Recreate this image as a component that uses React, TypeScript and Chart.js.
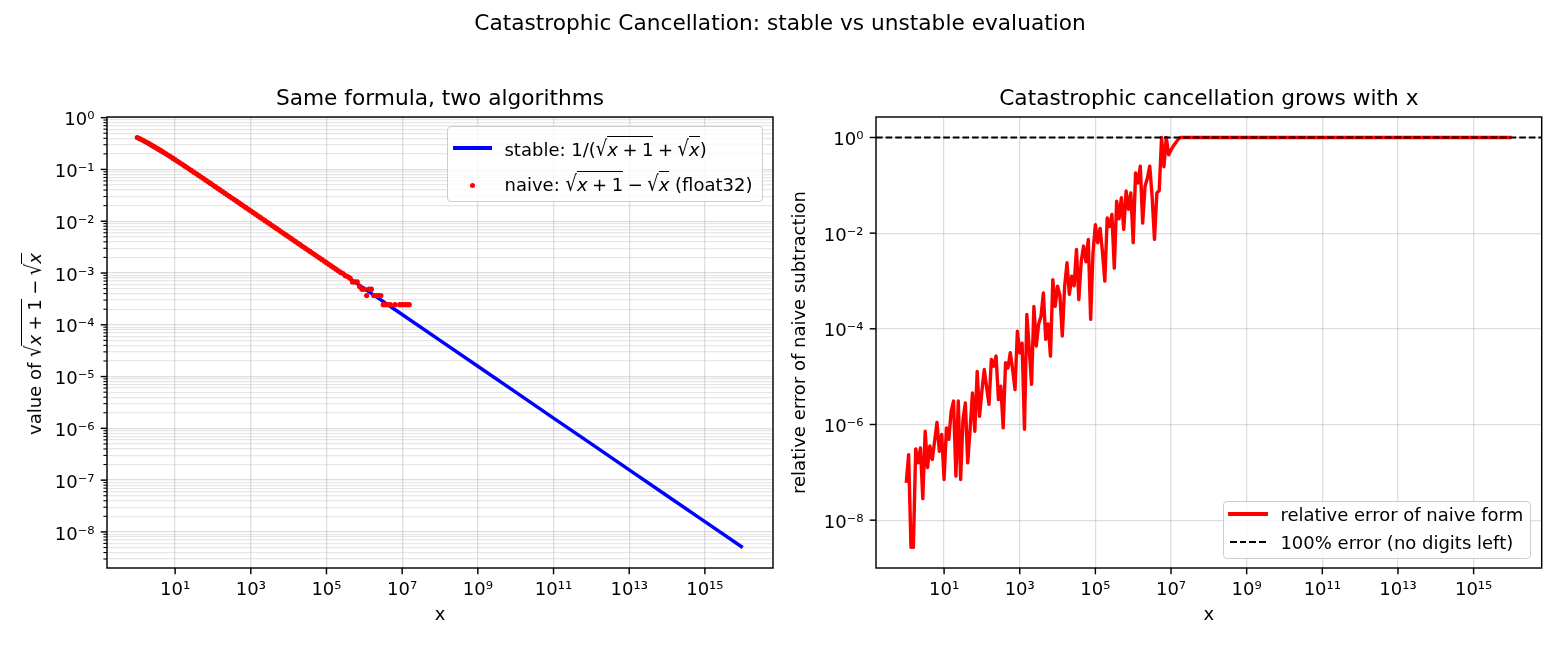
import React, { useEffect, useRef } from "react";
import { Chart, registerables } from "chart.js";

Chart.register(...registerables);

const FONT = '"DejaVu Sans", sans-serif';

// ---------------- data ----------------
// sample points x (shared by the naive scatter and the relative-error line)
const sampleX = [
  1, 1.155, 1.334, 1.54, 1.778, 2.054, 2.371, 2.738, 3.162, 3.652, 4.217, 4.87, 5.623, 6.494, 7.499, 8.66,
  10, 11.55, 13.34, 15.4, 17.78, 20.54, 23.71, 27.38, 31.62, 36.52, 42.17, 48.7, 56.23, 64.94, 74.99, 86.6,
  100, 115.5, 133.4, 154, 177.8, 205.4, 237.1, 273.8, 316.2, 365.2, 421.7, 487, 562.3, 649.4, 749.9, 866,
  1e3, 1155, 1334, 1540, 1778, 2054, 2371, 2738, 3162, 3652, 4217, 4870, 5623, 6494, 7499, 8660,
  1e4, 1.155e4, 1.334e4, 1.54e4, 1.778e4, 2.054e4, 2.371e4, 2.738e4, 3.162e4, 3.652e4, 4.217e4, 4.87e4, 5.623e4, 6.494e4, 7.499e4, 8.66e4,
  1e5, 1.155e5, 1.334e5, 1.54e5, 1.778e5, 2.054e5, 2.371e5, 2.738e5, 3.162e5, 3.652e5, 4.217e5, 4.87e5, 5.623e5, 6.494e5, 7.499e5, 8.66e5,
  1e6, 1.155e6, 1.334e6, 1.54e6, 1.778e6, 2.054e6, 2.371e6, 2.738e6, 3.162e6, 3.652e6, 4.217e6, 4.87e6, 5.623e6, 6.494e6, 7.499e6, 8.66e6,
  1e7, 1.155e7, 1.334e7, 1.54e7, 1.778e7,
];

// naive float32 value sqrt(x+1) - sqrt(x) (null = evaluated to 0, not drawn on log axis)
const naiveY = [
  0.4142, 0.3933, 0.3728, 0.3528, 0.3333, 0.3144, 0.2962, 0.2787, 0.2619, 0.2458, 0.2305, 0.216, 0.2022, 0.1892, 0.1769, 0.1653,
  0.1543, 0.1441, 0.1344, 0.1254, 0.117, 0.109, 0.1016, 0.0947, 0.0882, 0.0824, 0.0767, 0.0714, 0.0665, 0.0619, 0.0577, 0.0537,
  0.0499, 0.04653, 0.0433, 0.04029, 0.03749, 0.03489, 0.03247, 0.03022, 0.02812, 0.02617, 0.02435, 0.02266, 0.02109, 0.01962, 0.01826, 0.01699,
  0.01581, 0.01471, 0.01369, 0.01274, 0.01186, 0.01103, 0.01027, 0.00956, 0.00889, 0.00827, 0.0077, 0.00717, 0.00667, 0.0062, 0.00577, 0.00537,
  0.005, 0.004653, 0.00433, 0.004029, 0.003749, 0.003489, 0.003247, 0.003022, 0.002812, 0.002617, 0.002435, 0.002266, 0.002109, 0.001962, 0.001826, 0.001699,
  0.001581, 0.001471, 0.001369, 0.001274, 0.001186, 0.001103, 0.001027, 9.766e-4, 8.87e-4, 8.545e-4, 7.935e-4, 6.714e-4, 6.714e-4, 6.714e-4, 5.493e-4, 4.883e-4,
  4.883e-4, 3.662e-4, 4.883e-4, 4.883e-4, 3.662e-4, 3.662e-4, 3.662e-4, 3.662e-4, 2.441e-4, 2.441e-4, 2.441e-4, 2.441e-4, null, 2.441e-4, null, 2.441e-4,
  2.441e-4, 2.441e-4, 2.441e-4, 2.441e-4, null,
];

// relative error of the naive form at the same samples
const relErr = [
  6.03e-8, 2.34e-7, 2.7e-9, 2.7e-9, 3.09e-7, 1.58e-7, 3.24e-7, 2.82e-8, 7.24e-7, 1.26e-7, 3.55e-7, 1.86e-7, 4.47e-7, 1.1e-6, 2.75e-7, 6.17e-7,
  7.08e-8, 8.51e-7, 4.9e-7, 1.91e-6, 3.09e-6, 8.32e-8, 3.09e-6, 7.08e-8, 1.26e-6, 2.82e-6, 1.58e-7, 7.94e-7, 4.57e-6, 7.24e-7, 1.29e-5, 1.48e-6,
  5.01e-6, 1.41e-5, 5.89e-6, 2.63e-6, 2.29e-5, 1.66e-5, 2.69e-5, 3.31e-6, 6.31e-6, 8.51e-7, 1.95e-5, 1.51e-5, 3.16e-5, 1.41e-5, 5.37e-6, 8.91e-5,
  3.16e-5, 5.01e-5, 7.94e-7, 2.0e-4, 3.98e-5, 6.92e-6, 2.95e-4, 4.37e-5, 1.26e-4, 1.82e-4, 5.62e-4, 6.03e-5, 1.26e-4, 2.69e-5, 1.07e-3, 2.95e-4,
  7.76e-4, 5.01e-4, 7.08e-5, 7.76e-4, 2.4e-3, 5.25e-4, 1.26e-3, 7.94e-4, 4.57e-3, 4.07e-4, 2.51e-3, 5.37e-3, 2.51e-3, 7.41e-3, 1.58e-4, 3.98e-3,
  1.51e-2, 6.31e-3, 1.26e-2, 3.98e-3, 1.0e-3, 2.09e-2, 1.38e-2, 2.45e-2, 1.86e-3, 4.68e-2, 2.0e-2, 5.5e-2, 1.2e-2, 7.59e-2, 3.16e-2, 6.92e-2,
  6.31e-3, 0.182, 0.112, 0.251, 1.62e-2, 9.55e-2, 0.141, 0.251, 5.89e-2, 7.41e-3, 6.92e-2, 7.76e-2, 1, 0.245, 1, 0.437,
  0.55, 0.661, 0.776, 0.912, 1,
];

// beyond ~1.8e7 the naive subtraction returns 0 -> error stays at 100%
const tailX = [1e8, 1e10, 1e12, 1e14, 1e16];
const tailErr = [1, 1, 1, 1, 1];

// stable form 1/(sqrt(x+1)+sqrt(x))
const stableX = [1, 10, 1e2, 1e3, 1e4, 1e5, 1e6, 1e7, 1e8, 1e9, 1e10, 1e11, 1e12, 1e13, 1e14, 1e15, 1e16];
const stableY = [0.4142, 0.1543, 0.04988, 0.01581, 0.005, 1.581e-3, 5e-4, 1.581e-4, 5e-5, 1.581e-5, 5e-6, 1.581e-6, 5e-7, 1.581e-7, 5e-8, 1.581e-8, 5e-9];

const refLevel = 1; // 100% error line

// axis limits and ticks
const xLimits = [0.1585, 6.31e16];
const leftYLimits = [2.01e-9, 1.03];
const rightYLimits = [1.0e-9, 2.68];
const xTickValues = [1e1, 1e3, 1e5, 1e7, 1e9, 1e11, 1e13, 1e15];
const leftYMajor = [1e-8, 1e-7, 1e-6, 1e-5, 1e-4, 1e-3, 1e-2, 1e-1, 1e0];
const rightYMajor = [1e-8, 1e-6, 1e-4, 1e-2, 1e0];
const minorMultipliers = [2, 3, 4, 5, 6, 7, 8, 9];

// ---------------- helpers ----------------
const SUP = "⁰¹²³⁴⁵⁶⁷⁸⁹";
const sup = (e: number) =>
  String(e).replace(/-/g, "⁻").replace(/\d/g, (d) => SUP[+d]);
const decadeLabel = (v: number) => "10" + sup(Math.round(Math.log10(v)));

const naivePoints = sampleX
  .map((x, i) => ({ x, y: naiveY[i] }))
  .filter((p) => p.y !== null);
const stablePoints = stableX.map((x, i) => ({ x, y: stableY[i] }));
const errPoints = sampleX
  .map((x, i) => ({ x, y: relErr[i] }))
  .concat(tailX.map((x, i) => ({ x, y: tailErr[i] })));
const refPoints = [
  { x: xLimits[0], y: refLevel },
  { x: xLimits[1], y: refLevel },
];

function leftYTicks() {
  const out: any[] = [];
  for (let d = -9; d <= 0; d++) {
    const base = Math.pow(10, d);
    if (base >= leftYLimits[0] && base <= leftYLimits[1]) out.push({ value: base, major: true });
    for (const m of minorMultipliers) {
      const v = m * base;
      if (v >= leftYLimits[0] && v <= leftYLimits[1]) out.push({ value: v, major: false });
    }
  }
  return out.sort((a, b) => a.value - b.value);
}

const GRID_MAJOR = "rgba(176,176,176,0.42)";
const GRID_MINOR = "rgba(176,176,176,0.3)";

const framePlugin = {
  id: "frameTicks",
  afterDraw(chart: any) {
    const { ctx, chartArea: a } = chart;
    ctx.save();
    ctx.strokeStyle = "#000";
    const xs = chart.scales.x;
    xs.ticks.forEach((t: any) => {
      const px = xs.getPixelForValue(t.value);
      ctx.lineWidth = t.major ? 1.44 : 1.08;
      ctx.beginPath();
      ctx.moveTo(px, a.bottom);
      ctx.lineTo(px, a.bottom + (t.major ? 6.3 : 3.6));
      ctx.stroke();
    });
    const ys = chart.scales.y;
    ys.ticks.forEach((t: any) => {
      const py = ys.getPixelForValue(t.value);
      ctx.lineWidth = t.major ? 1.44 : 1.08;
      ctx.beginPath();
      ctx.moveTo(a.left, py);
      ctx.lineTo(a.left - (t.major ? 6.3 : 3.6), py);
      ctx.stroke();
    });
    ctx.lineWidth = 1.44;
    ctx.strokeRect(a.left, a.top, a.right - a.left, a.bottom - a.top);
    ctx.restore();
  },
};

function xScale() {
  return {
    type: "logarithmic",
    min: xLimits[0],
    max: xLimits[1],
    afterBuildTicks: (s: any) => {
      s.ticks = xTickValues.map((v) => ({ value: v, major: true }));
    },
    afterFit: (s: any) => {
      s.height = 82;
    },
    ticks: {
      autoSkip: false,
      maxRotation: 0,
      minRotation: 0,
      padding: 12,
      color: "#000",
      font: { family: FONT, size: 18 },
      callback: (v: any, i: number, ticks: any[]) => (ticks[i].major ? decadeLabel(v) : ""),
    },
    grid: { color: GRID_MAJOR, lineWidth: 1.3, drawTicks: false },
    border: { display: false },
    title: {
      display: true,
      text: "x",
      color: "#000",
      font: { family: FONT, size: 18 },
      padding: { top: 0, bottom: 23.4 },
    },
  };
}

function titleOpts(text: string) {
  return {
    display: true,
    text,
    fullSize: false,
    color: "#000",
    font: { family: FONT, size: 21.7, weight: "normal" },
    padding: { top: 86.5, bottom: 4.46 },
  };
}

function leftConfig(): any {
  const yt = leftYTicks();
  return {
    type: "scatter",
    data: {
      datasets: [
        {
          label: "naive",
          data: naivePoints,
          showLine: false,
          pointRadius: 2.6,
          pointHoverRadius: 2.6,
          pointBackgroundColor: "#ff0000",
          pointBorderWidth: 0,
          order: 0,
        },
        {
          label: "stable",
          data: stablePoints,
          showLine: true,
          borderColor: "#0000ff",
          borderWidth: 3.4,
          pointRadius: 0,
          fill: false,
          order: 1,
        },
      ],
    },
    options: {
      responsive: false,
      animation: false,
      devicePixelRatio: 1,
      events: [],
      layout: { padding: { left: 0, right: 7, top: 0, bottom: 0 } },
      plugins: {
        legend: { display: false },
        tooltip: { enabled: false },
        title: titleOpts("Same formula, two algorithms"),
      },
      scales: {
        x: xScale(),
        y: {
          type: "logarithmic",
          min: leftYLimits[0],
          max: leftYLimits[1],
          afterBuildTicks: (s: any) => {
            s.ticks = yt.map((t) => ({ ...t }));
          },
          afterFit: (s: any) => {
            s.width = 107;
          },
          ticks: {
            autoSkip: false,
            padding: 12.6,
            labelOffset: 3,
            color: "#000",
            font: { family: FONT, size: 18 },
            callback: (v: any, i: number, ticks: any[]) => (ticks[i].major ? decadeLabel(v) : ""),
          },
          grid: {
            color: (c: any) => (c.tick && c.tick.major ? GRID_MAJOR : GRID_MINOR),
            lineWidth: 1.3,
            drawTicks: false,
          },
          border: { display: false },
        },
      },
    },
    plugins: [framePlugin],
  };
}

function rightConfig(): any {
  return {
    type: "scatter",
    data: {
      datasets: [
        {
          label: "100% error (no digits left)",
          data: refPoints,
          showLine: true,
          borderColor: "#000",
          borderWidth: 1.8,
          borderDash: [6.7, 2.9],
          pointRadius: 0,
          order: 0,
        },
        {
          label: "relative error of naive form",
          data: errPoints,
          showLine: true,
          borderColor: "#ff0000",
          borderWidth: 3.4,
          borderJoinStyle: "round",
          pointRadius: 0,
          order: 1,
        },
      ],
    },
    options: {
      responsive: false,
      animation: false,
      devicePixelRatio: 1,
      events: [],
      layout: { padding: { left: 0, right: 18.3, top: 0, bottom: 0 } },
      plugins: {
        legend: { display: false },
        tooltip: { enabled: false },
        title: titleOpts("Catastrophic cancellation grows with x"),
      },
      scales: {
        x: xScale(),
        y: {
          type: "logarithmic",
          min: rightYLimits[0],
          max: rightYLimits[1],
          afterBuildTicks: (s: any) => {
            s.ticks = rightYMajor.map((v) => ({ value: v, major: true }));
          },
          afterFit: (s: any) => {
            s.width = 96;
          },
          ticks: {
            autoSkip: false,
            padding: 12.6,
            labelOffset: 3,
            color: "#000",
            font: { family: FONT, size: 18 },
            callback: (v: any) => decadeLabel(v),
          },
          grid: { color: GRID_MAJOR, lineWidth: 1.3, drawTicks: false },
          border: { display: false },
          title: {
            display: true,
            text: "relative error of naive subtraction",
            color: "#000",
            font: { family: FONT, size: 18 },
            padding: { top: 9.7, bottom: 0 },
          },
        },
      },
    },
    plugins: [framePlugin],
  };
}

// ---------------- math text bits ----------------
const Rad = ({ children }: { children: any }) => (
  <span style={{ whiteSpace: "nowrap" }}>
    <span
      style={{
        display: "inline-block",
        transform: "scaleY(1.2)",
        transformOrigin: "50% 75%",
      }}
    >
      √
    </span>
    <span style={{ borderTop: "1.3px solid #000", paddingTop: 2 }}>{children}</span>
  </span>
);
const X = () => <i>x</i>;
const SP = "\u2005";

export default function App() {
  const leftRef = useRef<HTMLCanvasElement>(null);
  const rightRef = useRef<HTMLCanvasElement>(null);

  useEffect(() => {
    const c1 = new Chart(leftRef.current as HTMLCanvasElement, leftConfig());
    const c2 = new Chart(rightRef.current as HTMLCanvasElement, rightConfig());
    return () => {
      c1.destroy();
      c2.destroy();
    };
  }, []);

  const text: any = {
    position: "absolute",
    fontFamily: FONT,
    fontSize: 18,
    lineHeight: "21px",
    whiteSpace: "nowrap",
    color: "#000",
  };

  return (
    <div
      style={{
        position: "absolute",
        left: 0,
        top: 0,
        width: 1560,
        height: 650,
        background: "#fff",
        overflow: "hidden",
        fontFamily: FONT,
      }}
    >
      <canvas
        ref={leftRef}
        width={780}
        height={650}
        style={{ position: "absolute", left: 0, top: 0, width: 780, height: 650 }}
      />
      <canvas
        ref={rightRef}
        width={780}
        height={650}
        style={{ position: "absolute", left: 780, top: 0, width: 780, height: 650 }}
      />

      {/* figure title */}
      <div
        style={{
          position: "absolute",
          left: 0,
          top: 10.2,
          width: 1560,
          textAlign: "center",
          fontFamily: FONT,
          fontSize: 21.7,
          lineHeight: "26px",
          color: "#000",
        }}
      >
        Catastrophic Cancellation: stable vs unstable evaluation
      </div>

      {/* left y-axis label */}
      <div
        style={{
          position: "absolute",
          left: 34.5,
          top: 343.5,
          transform: "translate(-50%, -50%) rotate(-90deg)",
          fontFamily: FONT,
          fontSize: 18,
          lineHeight: "26px",
          whiteSpace: "nowrap",
          color: "#000",
        }}
      >
        value of <Rad><X />{SP}+{SP}1</Rad>{SP}−{SP}<Rad><X /></Rad>
      </div>

      {/* left legend */}
      <div
        style={{
          position: "absolute",
          left: 447.3,
          top: 126,
          width: 316,
          height: 76,
          boxSizing: "border-box",
          border: "1px solid #cccccc",
          borderRadius: 4,
          background: "rgba(255,255,255,0.8)",
        }}
      >
        <div style={{ position: "absolute", left: 4.5, top: 19.2, width: 39.5, height: 3.6, background: "#0000ff" }} />
        <div style={{ ...text, left: 56.2, top: 11.6 }}>
          stable: 1/(<Rad><X />{SP}+{SP}1</Rad>{SP}+{SP}<Rad><X /></Rad>)
        </div>
        <div
          style={{
            position: "absolute",
            left: 21.5,
            top: 55.8,
            width: 5.2,
            height: 5.2,
            borderRadius: "50%",
            background: "#ff0000",
          }}
        />
        <div style={{ ...text, left: 56.2, top: 46.6 }}>
          naive: <Rad><X />{SP}+{SP}1</Rad>{SP}−{SP}<Rad><X /></Rad> (float32)
        </div>
      </div>

      {/* right legend */}
      <div
        style={{
          position: "absolute",
          left: 1222.7,
          top: 500.7,
          width: 308,
          height: 58.3,
          boxSizing: "border-box",
          border: "1px solid #cccccc",
          borderRadius: 4,
          background: "rgba(255,255,255,0.8)",
        }}
      >
        <div style={{ position: "absolute", left: 4.5, top: 10.8, width: 39.6, height: 3.6, background: "#ff0000" }} />
        <div style={{ ...text, left: 56.7, top: 2.6 }}>relative error of naive form</div>
        <div
          style={{
            position: "absolute",
            left: 6.3,
            top: 39.1,
            width: 36,
            height: 1.8,
            background: "repeating-linear-gradient(to right, #000 0px, #000 6.7px, transparent 6.7px, transparent 9.6px)",
          }}
        />
        <div style={{ ...text, left: 56.7, top: 29.9 }}>100% error (no digits left)</div>
      </div>
    </div>
  );
}
